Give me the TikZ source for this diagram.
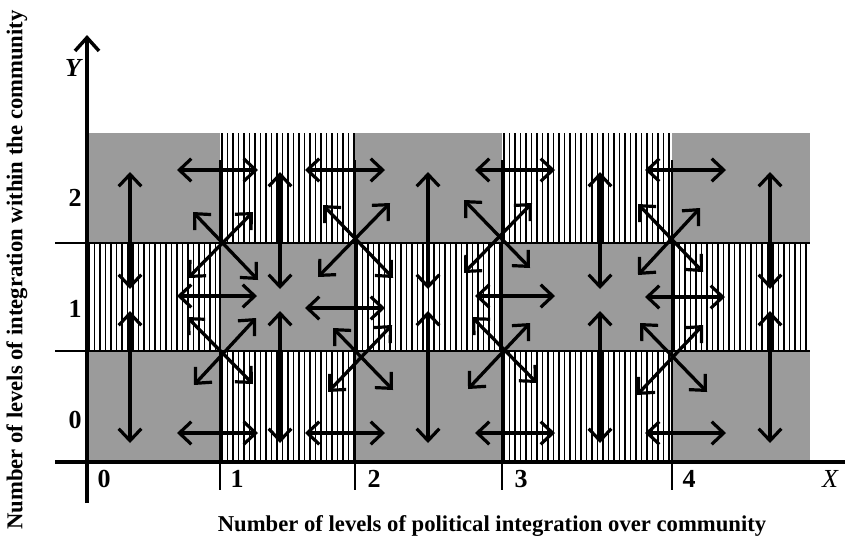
\documentclass[tikz,border=0pt]{standalone}
\usepackage{fontspec}
\setmainfont{Liberation Serif}
\usetikzlibrary{arrows.meta}
\definecolor{cellgray}{RGB}{155,155,155}
\tikzset{
  barb/.tip={Straight Barb[length=9pt,width=17pt,line width=2.4pt]},
  dbl/.style={line width=2.5pt,barb-barb},
  stripe/.style={line width=0.8pt,black},
  gridline/.style={line width=1.1pt,black},
  axis/.style={line width=2.8pt,black},
  lbl/.style={font=\fontsize{19.5}{22}\selectfont\bfseries,inner sep=0pt},
  captxt/.style={font=\fontsize{17}{20}\selectfont\bfseries,inner sep=0pt}
}
\begin{document}
\begin{tikzpicture}[x=0.75pt,y=-0.75pt]
\useasboundingbox (0,0) rectangle (845,544);
% gray cells
\fill[cellgray] (87,133) rectangle (220,243);
\fill[cellgray] (355,133) rectangle (502,243);
\fill[cellgray] (672,133) rectangle (810,243);
\fill[cellgray] (220,243) rectangle (355,351);
\fill[cellgray] (502,243) rectangle (672,351);
\fill[cellgray] (87,351) rectangle (220,462);
\fill[cellgray] (355,351) rectangle (502,462);
\fill[cellgray] (672,351) rectangle (810,462);
% striped cells
\foreach \xa/\xb/\ya/\yb in {220/355/133/243, 502/672/133/243, 87/220/243/351, 355/502/243/351, 672/808/243/351, 220/355/351/462, 502/672/351/462}{
  \pgfmathsetmacro{\nn}{int(floor((\xb-\xa-2)/5.5))}
  \foreach \k in {0,...,\nn}{
    \draw[stripe] ({\xa+2+\k*5.5},\ya) -- ({\xa+2+\k*5.5},\yb);
  }
}
% grid lines
\draw[gridline] (55,243) -- (810,243);
\draw[gridline] (55,351) -- (810,351);
\foreach \gx in {220,355,502,672}{
  \draw[gridline] (\gx,160) -- (\gx,490);
}
% axes
\coordinate (O) at (87,462);
\coordinate (ytop) at (87,35);
\coordinate (ybot) at (87,503);
\coordinate (xl) at (55,462);
\coordinate (xr) at (845,462);
\draw[axis] (xl) -- (xr);
\draw[axis,-{Straight Barb[length=10pt,width=18pt,line width=2.6pt]}] (ybot) -- (ytop);
% vertical arrows
\foreach \vx in {130,280,428,600,770}{
  \draw[dbl] (\vx,172) -- (\vx,289);
  \draw[dbl] (\vx,311) -- (\vx,443);
}
% horizontal arrows
\foreach \ha/\hb in {177/258,305/385,475/555,645/726}{
  \draw[dbl] (\ha,170) -- (\hb,170);
  \draw[dbl] (\ha,433) -- (\hb,433);
}
\draw[dbl] (177,296) -- (257,296);
\draw[dbl] (305,308) -- (385,308);
\draw[dbl] (475,296) -- (555,296);
\draw[dbl] (645,297) -- (725,297);
% diagonal arrows
\foreach \ax/\ay/\bx/\by in {
  193/212/258/280, 253/212/188/278,
  323/205/393/278, 390/203/318/277,
  464/200/530/268, 532/203/464/273,
  638/204/703/272, 700/208/638/275,
  187/317/253/384, 256/318/194/385,
  333/328/393/390, 392/325/328/392,
  472/317/537/383, 530/323/468/389,
  640/323/707/392, 703/325/637/395}{
  \draw[dbl] (\ax,\ay) -- (\bx,\by);
}
% labels
\node[lbl] (y2) at (75,198) {2};
\node[lbl] (y1) at (75,309) {1};
\node[lbl] (y0) at (75,420) {0};
\node[lbl] (x0) at (104,479) {0};
\node[lbl] (x1) at (237,479) {1};
\node[lbl] (x2) at (374,479) {2};
\node[lbl] (x3) at (521,479) {3};
\node[lbl] (x4) at (689,479) {4};
\node[font=\fontsize{19.5}{22}\selectfont\itshape,inner sep=0pt] (xlab) at (830,479) {X};
\node[font=\fontsize{19.5}{22}\selectfont\bfseries\itshape,inner sep=0pt] (ylab) at (73,68) {Y};
\node[captxt] (xcap) at (492,526) {Number of levels of political integration over community};
\node[captxt,rotate=90] (ycap) at (17,270) {Number of levels of integration within the community};
\end{tikzpicture}
\end{document}
